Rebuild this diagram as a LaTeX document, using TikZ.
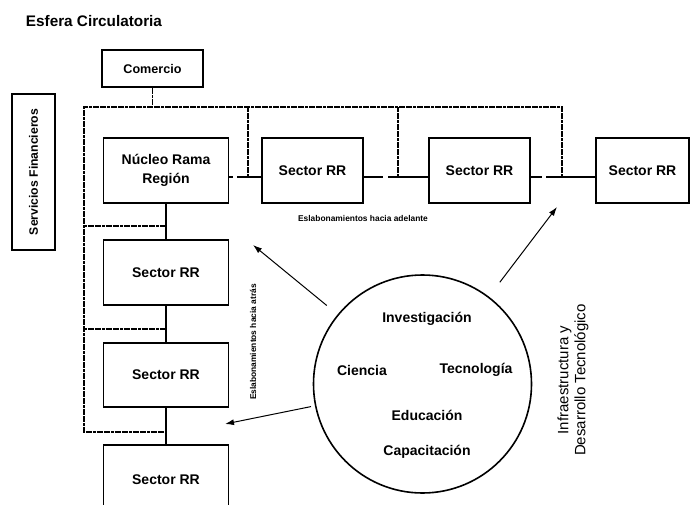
\documentclass[tikz,border=0pt]{standalone}
\usepackage{fontspec}
\setmainfont{Liberation Sans}
\usetikzlibrary{arrows.meta,calc}
\begin{document}
\begin{tikzpicture}[x=1pt,y=-1pt,
  box/.style={draw,line width=1.6pt,inner sep=0pt,align=center,font=\fontsize{14}{19}\selectfont\bfseries},
  link/.style={line width=1.4pt},
  frame/.style={line width=1.6pt,dash pattern=on 3pt off 0.6pt},
  arr/.style={line width=1pt,-{Latex[length=9pt,width=6pt]}},
  lbl/.style={font=\fontsize{14}{18}\selectfont\bfseries},
  small/.style={font=\fontsize{8.4}{10}\selectfont\bfseries}]
\clip (0,0) rectangle (690,505);
\fill[white] (0,0) rectangle (690,505);
% title
\node[font=\fontsize{15.3}{18}\selectfont\bfseries] (title) at (94,21) {Esfera Circulatoria};
% boxes
\node[box,minimum width=101pt,minimum height=37pt,font=\fontsize{12.6}{15}\selectfont\bfseries] (com) at (152.5,68.5) {Comercio};
\node[box,rotate=90,minimum width=156pt,minimum height=43pt,font=\fontsize{12.2}{15}\selectfont\bfseries] (serv) at (33.5,172) {Servicios Financieros};
\node[box,minimum width=125pt,minimum height=65pt] (nuc) at (166,170.5) {Núcleo Rama\\Región};
\node[box,minimum width=101pt,minimum height=65pt] (s1) at (312.5,170.5) {Sector RR};
\node[box,minimum width=101pt,minimum height=65pt] (s2) at (479.5,170.5) {Sector RR};
\node[box,minimum width=93pt,minimum height=65pt] (s3) at (642.5,170.5) {Sector RR};
\node[box,minimum width=125pt,minimum height=65pt] (l1) at (166,272.5) {Sector RR};
\node[box,minimum width=125pt,minimum height=64pt] (l2) at (166,375) {Sector RR};
\node[box,minimum width=125pt,minimum height=70pt] (l3) at (166,480) {Sector RR};
% coordinates
\coordinate (tl) at (84,107);
\coordinate (bl) at (84,432);
\coordinate (j1) at (248,177);
\coordinate (j2) at (398,177);
\coordinate (j3) at (562,177);
\coordinate (b1) at (166,226);
\coordinate (b2) at (166,329);
\coordinate (g1a) at (233,177);
\coordinate (g1b) at (237,177);
\coordinate (g2a) at (383,177);
\coordinate (g2b) at (388,177);
\coordinate (g3a) at (542,177);
\coordinate (g3b) at (546,177);
% frame lines
\draw[frame] (j3) |- (tl) -- (bl) -- (bl -| l3.north);
\draw[frame] (com.south) -- (com.south |- tl);
\draw[frame] (j1) -- (j1 |- tl);
\draw[frame] (j2) -- (j2 |- tl);
\draw[frame] (tl |- b1) -- (b1);
\draw[frame] (tl |- b2) -- (b2);
% horizontal links
\draw[link] (nuc.east |- j1) -- (g1a);
\draw[link] (g1b) -- (s1.west |- j1);
\draw[link] (s1.east |- j2) -- (g2a);
\draw[link] (g2b) -- (s2.west |- j2);
\draw[link] (s2.east |- j3) -- (g3a);
\draw[link] (g3b) -- (s3.west |- j3);
% vertical links
\draw[link] (nuc.south) -- (l1.north);
\draw[link] (l1.south) -- (l2.north);
\draw[link] (l2.south) -- (l3.north);
% labels
\node[small] (adel) at (363,218) {Eslabonamientos hacia adelante};
\node[small,rotate=90] (atras) at (253,342) {Eslabonamientos hacia atrás};
% circle
\node[draw,circle,line width=1.6pt,minimum size=218pt,inner sep=0pt] (c) at (422.5,384) {};
\node[lbl] (inv) at (427,319) {Investigación};
\node[lbl] (cie) at (362,370) {Ciencia};
\node[lbl] (tec) at (476,370) {Tecnología};
\node[lbl] (edu) at (427,415) {Educación};
\node[lbl] (cap) at (427,452) {Capacitación};
% arrows
\coordinate (t1) at (253,245);
\coordinate (t2) at (557,207);
\coordinate (t3) at (225,424);
\draw[arr,shorten <=14pt] (c) -- (t1);
\draw[arr,shorten <=18pt] (c) -- (t2);
\draw[arr,shorten <=4pt] (c) -- (t3);
% right label
\node[rotate=90,align=center,font=\fontsize{15}{17}\selectfont] (infra) at (573,380) {Infraestructura y\\Desarrollo Tecnológico};
\end{tikzpicture}
\end{document}
